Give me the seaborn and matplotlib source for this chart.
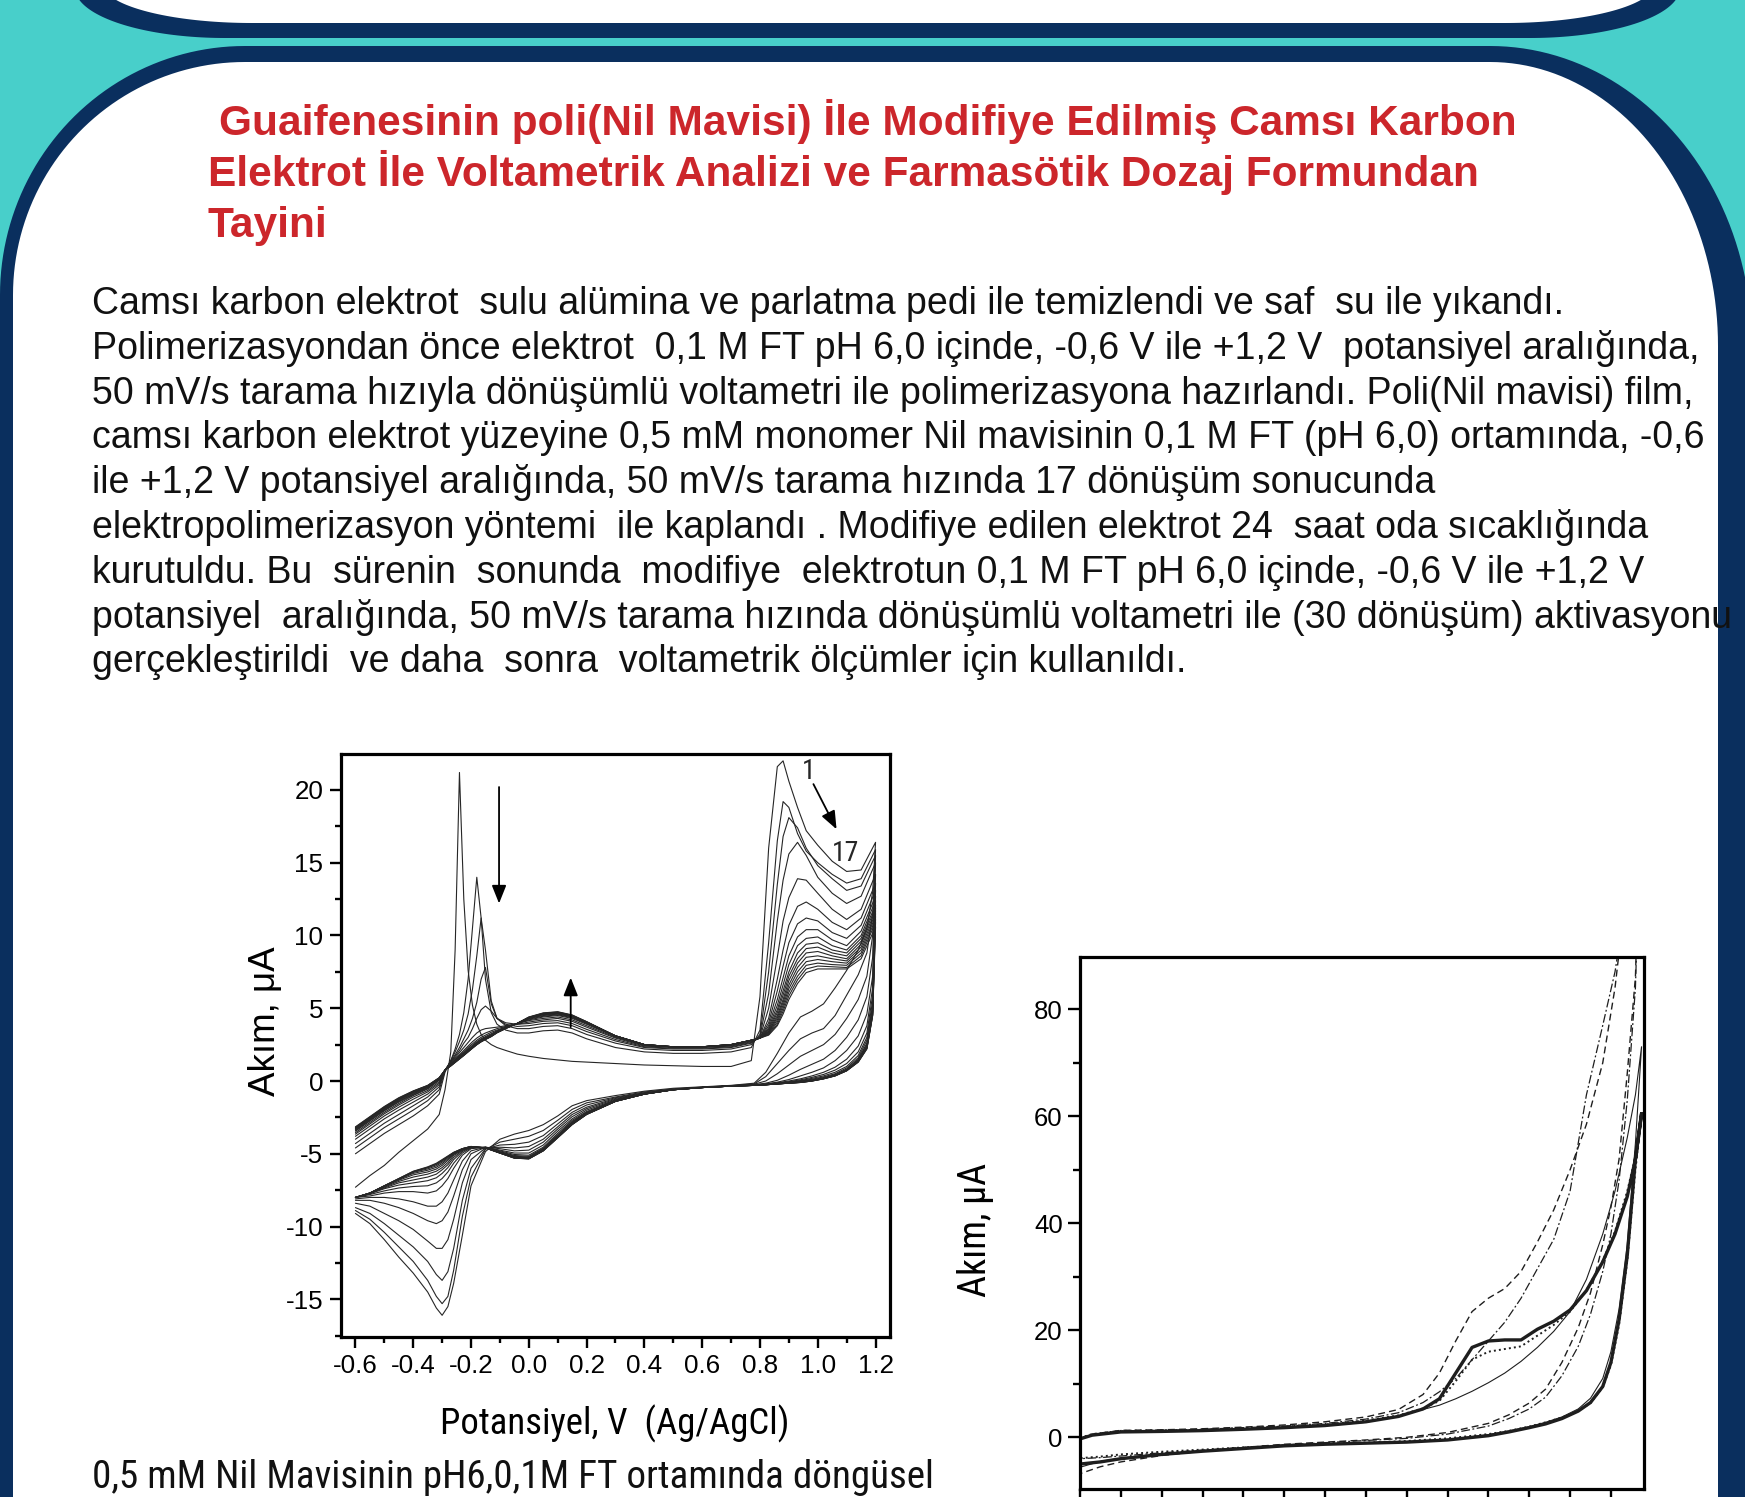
import numpy as np
import pandas as pd
import matplotlib
matplotlib.use("Agg")
import matplotlib.pyplot as plt
import seaborn as sns
from matplotlib.patches import Polygon
from matplotlib.ticker import MultipleLocator, NullFormatter
from matplotlib import font_manager as fm
from matplotlib.font_manager import FontProperties

# ---------------------------------------------------------------- data
# Left chart: 17 CV cycles of Nile Blue electropolymerisation
FWD_V = [-0.60, -0.55, -0.50, -0.45, -0.40, -0.35, -0.31, -0.29, -0.27, -0.255,
         -0.24, -0.225, -0.21, -0.195, -0.18, -0.165, -0.15, -0.13, -0.11, -0.08,
         -0.04, 0.00, 0.05, 0.10, 0.15, 0.20, 0.30, 0.40, 0.50, 0.60,
         0.70, 0.77, 0.80, 0.83, 0.86, 0.88, 0.90, 0.93, 0.96, 1.00,
         1.05, 1.10, 1.15, 1.20]
REV_V = [1.20, 1.19, 1.17, 1.14, 1.10, 1.06, 1.02, 0.98, 0.94, 0.90,
         0.86, 0.82, 0.78, 0.70, 0.60, 0.50, 0.40, 0.30, 0.20, 0.15,
         0.10, 0.05, 0.00, -0.05, -0.10, -0.15, -0.20, -0.23, -0.26, -0.28,
         -0.30, -0.32, -0.35, -0.40, -0.45, -0.50, -0.55, -0.60]

FWD_1 = [-7.3, -6.5, -5.8, -4.9, -4.1, -3.3, -2.3, -0.6, 2.0, 9.0,
         21.2, 12.5, 7.6, 5.2, 3.9, 3.2, 2.8, 2.5, 2.3, 2.1,
         1.85, 1.7, 1.55, 1.45, 1.35, 1.3, 1.2, 1.1, 1.05, 1.0,
         1.0, 1.4, 5.8, 16.0, 21.6, 22.0, 20.6, 18.8, 17.2, 16.2,
         15.1, 14.4, 14.5, 16.4]
FWD_2 = [-5.0, -4.3, -3.6, -3.0, -2.4, -1.7, -0.9, 0.6, 1.4, 2.2,
         3.2, 4.7, 7.0, 10.5, 14.0, 11.2, 7.0, 4.7, 3.9, 3.5,
         3.3, 3.3, 3.45, 3.5, 3.3, 2.9, 2.3, 2.0, 1.9, 1.9,
         2.0, 2.3, 3.5, 9.5, 16.5, 19.2, 18.8, 17.0, 15.8, 15.0,
         14.2, 13.6, 13.9, 15.9]
FWD_3 = [-4.6, -3.9, -3.2, -2.6, -2.0, -1.35, -0.6, 0.7, 1.4, 2.0,
         2.7, 3.5, 4.6, 6.3, 8.6, 11.2, 9.0, 5.5, 4.3, 3.8,
         3.6, 3.6, 3.75, 3.8, 3.6, 3.2, 2.6, 2.2, 2.1, 2.1,
         2.2, 2.5, 3.2, 7.5, 13.5, 16.8, 18.1, 17.4, 16.0, 14.8,
         13.9, 13.1, 13.4, 15.5]
FWD_4 = [-4.3, -3.6, -2.9, -2.3, -1.7, -1.1, -0.4, 0.75, 1.35, 1.8,
         2.3, 2.9, 3.5, 4.3, 5.4, 7.0, 7.8, 5.3, 4.3, 3.9,
         3.75, 3.8, 3.95, 4.0, 3.8, 3.4, 2.75, 2.3, 2.2, 2.2,
         2.3, 2.6, 3.1, 6.0, 11.0, 13.8, 15.6, 16.4, 15.5, 14.0,
         12.9, 12.2, 12.7, 15.0]
FWD_5 = [-4.0, -3.3, -2.6, -2.0, -1.45, -0.9, -0.25, 0.75, 1.3, 1.7,
         2.1, 2.6, 3.0, 3.6, 4.3, 4.9, 5.15, 4.8, 4.3, 4.0,
         3.9, 3.95, 4.1, 4.15, 3.95, 3.55, 2.85, 2.35, 2.25, 2.25,
         2.35, 2.65, 3.0, 5.0, 8.5, 11.0, 12.6, 13.9, 13.8, 12.9,
         11.8, 11.1, 11.8, 14.2]
FWD_6 = [-3.8, -3.1, -2.4, -1.8, -1.25, -0.75, -0.15, 0.75, 1.25, 1.6,
         1.95, 2.3, 2.65, 3.0, 3.3, 3.5, 3.6, 3.65, 3.7, 3.8,
         3.9, 4.05, 4.2, 4.3, 4.1, 3.7, 2.95, 2.4, 2.3, 2.3,
         2.4, 2.7, 2.95, 4.3, 7.0, 9.0, 10.7, 12.0, 12.3, 11.8,
         10.9, 10.4, 11.2, 13.6]
FWD_7 = [-3.65, -2.95, -2.25, -1.65, -1.1, -0.65, -0.05, 0.75, 1.2, 1.5,
         1.8, 2.1, 2.4, 2.7, 2.95, 3.15, 3.3, 3.45, 3.6, 3.75,
         3.95, 4.15, 4.3, 4.4, 4.2, 3.8, 3.0, 2.45, 2.35, 2.35,
         2.45, 2.75, 2.95, 4.0, 6.2, 7.9, 9.5, 10.8, 11.2, 11.0,
         10.2, 9.8, 10.7, 13.1]
FWD_8 = [-3.55, -2.85, -2.15, -1.55, -1.0, -0.55, 0.05, 0.75, 1.15, 1.45,
         1.75, 2.0, 2.3, 2.55, 2.8, 3.0, 3.15, 3.35, 3.5, 3.7,
         3.95, 4.2, 4.4, 4.5, 4.3, 3.9, 3.05, 2.5, 2.35, 2.35,
         2.45, 2.8, 2.95, 3.8, 5.6, 7.1, 8.6, 9.9, 10.4, 10.4,
         9.7, 9.3, 10.3, 12.7]
FWD_9 = [-3.45, -2.75, -2.05, -1.45, -0.95, -0.5, 0.1, 0.75, 1.15, 1.4,
         1.7, 1.95, 2.2, 2.45, 2.7, 2.9, 3.05, 3.25, 3.45, 3.7,
         3.95, 4.25, 4.45, 4.55, 4.35, 3.95, 3.1, 2.5, 2.35, 2.35,
         2.5, 2.8, 2.95, 3.65, 5.2, 6.6, 8.0, 9.3, 9.8, 9.9,
         9.3, 9.0, 10.0, 12.4]
FWD_10 = [-3.4, -2.7, -2.0, -1.4, -0.9, -0.45, 0.12, 0.75, 1.1, 1.4,
          1.65, 1.9, 2.15, 2.4, 2.65, 2.85, 3.0, 3.2, 3.4, 3.65,
          3.95, 4.3, 4.5, 4.6, 4.4, 4.0, 3.1, 2.5, 2.35, 2.35,
          2.5, 2.8, 2.95, 3.55, 4.9, 6.2, 7.5, 8.8, 9.4, 9.5,
          9.0, 8.8, 9.8, 12.1]
FWD_11 = [-3.35, -2.65, -1.95, -1.35, -0.85, -0.42, 0.15, 0.75, 1.1, 1.35,
          1.6, 1.85, 2.1, 2.35, 2.6, 2.8, 2.95, 3.15, 3.38, 3.65,
          3.95, 4.3, 4.55, 4.62, 4.42, 4.0, 3.1, 2.5, 2.35, 2.35,
          2.5, 2.8, 2.95, 3.45, 4.7, 5.9, 7.2, 8.4, 9.1, 9.2,
          8.8, 8.6, 9.6, 11.9]
FWD_12 = [-3.3, -2.6, -1.9, -1.3, -0.8, -0.4, 0.17, 0.75, 1.08, 1.33,
          1.58, 1.82, 2.07, 2.32, 2.56, 2.76, 2.92, 3.12, 3.36, 3.64,
          3.96, 4.32, 4.58, 4.65, 4.45, 4.02, 3.1, 2.5, 2.35, 2.35,
          2.5, 2.8, 2.95, 3.4, 4.5, 5.6, 6.9, 8.1, 8.8, 8.9,
          8.6, 8.4, 9.4, 11.7]
FWD_13 = [-3.27, -2.57, -1.87, -1.27, -0.77, -0.37, 0.19, 0.75, 1.07, 1.31,
          1.56, 1.8, 2.05, 2.3, 2.54, 2.74, 2.9, 3.1, 3.35, 3.63,
          3.96, 4.34, 4.6, 4.68, 4.47, 4.04, 3.1, 2.5, 2.35, 2.35,
          2.5, 2.8, 2.95, 3.35, 4.35, 5.4, 6.6, 7.8, 8.5, 8.6,
          8.4, 8.25, 9.2, 11.5]
FWD_14 = [-3.24, -2.54, -1.84, -1.24, -0.74, -0.35, 0.2, 0.75, 1.06, 1.3,
          1.54, 1.78, 2.03, 2.28, 2.52, 2.72, 2.88, 3.08, 3.34, 3.62,
          3.96, 4.36, 4.62, 4.7, 4.48, 4.05, 3.1, 2.5, 2.35, 2.35,
          2.5, 2.8, 2.95, 3.3, 4.2, 5.2, 6.35, 7.5, 8.2, 8.35,
          8.2, 8.1, 9.0, 11.3]
FWD_15 = [-3.21, -2.51, -1.81, -1.21, -0.72, -0.33, 0.21, 0.75, 1.05, 1.29,
          1.53, 1.77, 2.02, 2.27, 2.51, 2.71, 2.87, 3.07, 3.33, 3.62,
          3.96, 4.37, 4.64, 4.72, 4.5, 4.06, 3.1, 2.5, 2.35, 2.35,
          2.5, 2.8, 2.95, 3.25, 4.05, 5.0, 6.1, 7.2, 7.95, 8.1,
          8.0, 7.95, 8.8, 11.1]
FWD_16 = [-3.18, -2.48, -1.78, -1.18, -0.7, -0.31, 0.22, 0.75, 1.04, 1.28,
          1.52, 1.76, 2.01, 2.26, 2.5, 2.7, 2.86, 3.06, 3.32, 3.61,
          3.96, 4.38, 4.66, 4.74, 4.52, 4.07, 3.1, 2.5, 2.35, 2.35,
          2.5, 2.8, 2.95, 3.2, 3.9, 4.8, 5.85, 6.95, 7.7, 7.9,
          7.85, 7.8, 8.6, 10.9]
FWD_17 = [-3.15, -2.45, -1.75, -1.15, -0.68, -0.3, 0.23, 0.75, 1.03, 1.27,
          1.51, 1.75, 2.0, 2.25, 2.49, 2.69, 2.85, 3.05, 3.31, 3.6,
          3.96, 4.4, 4.68, 4.76, 4.54, 4.08, 3.1, 2.5, 2.35, 2.35,
          2.5, 2.8, 2.95, 3.15, 3.8, 4.6, 5.6, 6.7, 7.45, 7.7,
          7.7, 7.7, 8.4, 10.6]

REV_1 = [16.4, 13.0, 10.5, 9.0, 7.6, 6.4, 5.3, 4.8, 4.4, 3.3,
         1.9, 0.6, -0.15, -0.3, -0.4, -0.5, -0.7, -1.0, -1.35, -1.7,
         -2.4, -3.0, -3.4, -3.65, -4.0, -4.85, -7.2, -10.6, -13.9, -15.5,
         -16.1, -15.6, -14.5, -13.2, -12.1, -10.9, -9.8, -9.1]
REV_2 = [15.9, 11.5, 8.8, 7.3, 5.9, 4.5, 3.6, 3.3, 2.9, 2.1,
         1.2, 0.3, -0.2, -0.32, -0.42, -0.55, -0.75, -1.1, -1.5, -1.95,
         -2.7, -3.4, -3.8, -4.0, -4.2, -4.7, -6.6, -9.3, -13.0, -14.8,
         -15.3, -14.8, -13.7, -12.4, -11.4, -10.4, -9.5, -8.9]
REV_3 = [15.5, 10.0, 7.2, 5.6, 4.3, 3.2, 2.5, 2.1, 1.7, 1.1,
         0.5, 0.0, -0.22, -0.33, -0.43, -0.57, -0.8, -1.15, -1.65, -2.15,
         -2.95, -3.75, -4.2, -4.35, -4.4, -4.65, -6.0, -8.2, -11.5, -13.1,
         -13.7, -13.3, -12.4, -11.4, -10.6, -9.8, -9.1, -8.7]
REV_4 = [15.0, 8.5, 5.8, 4.2, 3.0, 2.1, 1.5, 1.15, 0.8, 0.4,
         0.05, -0.15, -0.25, -0.34, -0.44, -0.58, -0.83, -1.2, -1.8, -2.3,
         -3.15, -4.0, -4.5, -4.6, -4.55, -4.6, -5.4, -7.0, -9.5, -10.9,
         -11.5, -11.5, -11.0, -10.2, -9.6, -9.1, -8.6, -8.4]
REV_5 = [14.2, 7.2, 4.6, 3.1, 2.1, 1.4, 0.9, 0.6, 0.35, 0.1,
         -0.08, -0.2, -0.27, -0.34, -0.44, -0.59, -0.85, -1.25, -1.9, -2.45,
         -3.3, -4.2, -4.75, -4.8, -4.65, -4.55, -5.0, -6.1, -7.9, -9.0,
         -9.6, -9.8, -9.6, -9.1, -8.7, -8.4, -8.2, -8.2]
REV_6 = [13.6, 6.4, 3.8, 2.4, 1.5, 0.95, 0.6, 0.35, 0.15, 0.0,
         -0.12, -0.22, -0.28, -0.35, -0.45, -0.6, -0.87, -1.3, -2.0, -2.6,
         -3.45, -4.4, -4.95, -4.95, -4.75, -4.55, -4.8, -5.5, -6.8, -7.7,
         -8.3, -8.6, -8.6, -8.3, -8.1, -8.0, -8.0, -8.1]
REV_7 = [13.1, 5.9, 3.3, 2.0, 1.2, 0.75, 0.45, 0.25, 0.08, -0.05,
         -0.15, -0.23, -0.29, -0.35, -0.45, -0.6, -0.88, -1.32, -2.1, -2.7,
         -3.6, -4.55, -5.1, -5.05, -4.8, -4.55, -4.65, -5.1, -6.0, -6.7,
         -7.2, -7.55, -7.7, -7.6, -7.6, -7.7, -7.9, -8.0]
REV_8 = [12.7, 5.5, 3.0, 1.75, 1.0, 0.6, 0.35, 0.18, 0.03, -0.08,
         -0.17, -0.24, -0.29, -0.35, -0.45, -0.6, -0.89, -1.34, -2.15, -2.78,
         -3.7, -4.62, -5.18, -5.12, -4.85, -4.55, -4.6, -4.95, -5.65, -6.25,
         -6.7, -7.0, -7.2, -7.25, -7.35, -7.55, -7.8, -8.0]
REV_9 = [12.4, 5.2, 2.8, 1.6, 0.9, 0.5, 0.28, 0.12, 0.0, -0.1,
         -0.18, -0.25, -0.3, -0.35, -0.45, -0.6, -0.89, -1.36, -2.18, -2.83,
         -3.75, -4.67, -5.23, -5.17, -4.88, -4.56, -4.57, -4.85, -5.4, -5.95,
         -6.35, -6.65, -6.85, -7.0, -7.15, -7.4, -7.75, -8.0]
REV_10 = [12.1, 5.0, 2.6, 1.5, 0.82, 0.45, 0.23, 0.08, -0.03, -0.12,
          -0.19, -0.25, -0.3, -0.35, -0.45, -0.6, -0.9, -1.37, -2.21, -2.87,
          -3.79, -4.7, -5.26, -5.2, -4.9, -4.57, -4.55, -4.78, -5.25, -5.75,
          -6.1, -6.4, -6.6, -6.8, -7.0, -7.35, -7.72, -8.0]
REV_11 = [11.9, 4.9, 2.5, 1.45, 0.78, 0.42, 0.2, 0.05, -0.05, -0.13,
          -0.2, -0.26, -0.3, -0.35, -0.45, -0.6, -0.9, -1.38, -2.24, -2.9,
          -3.82, -4.73, -5.29, -5.23, -4.92, -4.58, -4.53, -4.74, -5.12, -5.6,
          -5.95, -6.2, -6.4, -6.6, -6.9, -7.3, -7.7, -8.0]
REV_12 = [11.7, 4.8, 2.4, 1.4, 0.75, 0.4, 0.18, 0.03, -0.07, -0.14,
          -0.2, -0.26, -0.3, -0.35, -0.45, -0.6, -0.9, -1.39, -2.26, -2.93,
          -3.85, -4.76, -5.31, -5.26, -4.93, -4.59, -4.52, -4.7, -5.05, -5.45,
          -5.8, -6.05, -6.25, -6.45, -6.82, -7.25, -7.7, -8.0]
REV_13 = [11.5, 4.7, 2.35, 1.38, 0.73, 0.38, 0.17, 0.02, -0.08, -0.15,
          -0.2, -0.26, -0.3, -0.35, -0.45, -0.6, -0.9, -1.39, -2.27, -2.95,
          -3.86, -4.77, -5.32, -5.27, -4.94, -4.59, -4.51, -4.68, -5.0, -5.35,
          -5.68, -5.93, -6.13, -6.35, -6.77, -7.22, -7.7, -8.0]
REV_14 = [11.3, 4.6, 2.3, 1.35, 0.72, 0.37, 0.16, 0.01, -0.09, -0.15,
          -0.2, -0.26, -0.3, -0.35, -0.45, -0.6, -0.9, -1.4, -2.28, -2.97,
          -3.88, -4.78, -5.33, -5.28, -4.95, -4.6, -4.5, -4.66, -4.96, -5.27,
          -5.58, -5.83, -6.04, -6.28, -6.74, -7.21, -7.7, -8.0]
REV_15 = [11.1, 4.55, 2.25, 1.32, 0.71, 0.36, 0.15, 0.0, -0.1, -0.15,
          -0.2, -0.26, -0.3, -0.35, -0.45, -0.6, -0.9, -1.4, -2.29, -2.98,
          -3.89, -4.79, -5.34, -5.29, -4.95, -4.6, -4.5, -4.65, -4.93, -5.21,
          -5.5, -5.75, -5.97, -6.24, -6.72, -7.2, -7.7, -8.0]
REV_16 = [10.9, 4.5, 2.22, 1.3, 0.7, 0.35, 0.15, 0.0, -0.1, -0.15,
          -0.2, -0.25, -0.3, -0.35, -0.45, -0.6, -0.9, -1.4, -2.3, -2.99,
          -3.9, -4.8, -5.35, -5.3, -4.95, -4.6, -4.5, -4.65, -4.91, -5.18,
          -5.45, -5.7, -5.93, -6.22, -6.71, -7.2, -7.7, -8.0]
REV_17 = [10.6, 4.5, 2.2, 1.3, 0.7, 0.35, 0.15, 0.0, -0.1, -0.15,
          -0.2, -0.25, -0.3, -0.35, -0.45, -0.6, -0.9, -1.4, -2.3, -3.0,
          -3.9, -4.8, -5.35, -5.3, -4.95, -4.6, -4.5, -4.65, -4.9, -5.15,
          -5.4, -5.65, -5.9, -6.2, -6.7, -7.2, -7.7, -8.0]

FWD_CYCLES = [FWD_1, FWD_2, FWD_3, FWD_4, FWD_5, FWD_6, FWD_7, FWD_8, FWD_9,
              FWD_10, FWD_11, FWD_12, FWD_13, FWD_14, FWD_15, FWD_16, FWD_17]
REV_CYCLES = [REV_1, REV_2, REV_3, REV_4, REV_5, REV_6, REV_7, REV_8, REV_9,
              REV_10, REV_11, REV_12, REV_13, REV_14, REV_15, REV_16, REV_17]

# Right chart: five voltammograms (forward and reverse branches)
R_FWD_V = [0.0, 0.03, 0.1, 0.2, 0.3, 0.4, 0.5, 0.6, 0.7, 0.78,
           0.84, 0.88, 0.92, 0.96, 1.0, 1.04, 1.08, 1.12, 1.16, 1.2,
           1.24, 1.28, 1.31, 1.34, 1.36, 1.375]
R_REV_V = [1.375, 1.36, 1.34, 1.32, 1.30, 1.28, 1.25, 1.22, 1.18, 1.14,
           1.10, 1.05, 1.0, 0.9, 0.8, 0.7, 0.6, 0.5, 0.4, 0.3,
           0.2, 0.1, 0.05, 0.0]
R_CURVES = ["A", "B", "C", "D", "E"]
R_FWD = {
    "A": [-0.3, 0.4, 1.0, 1.1, 1.25, 1.5, 1.8, 2.2, 2.9, 3.9,
          5.3, 7.2, 12.0, 16.8, 18.0, 18.2, 18.2, 20.2, 21.7, 23.8,
          27.4, 32.8, 38.0, 45.0, 52.0, 60.5],
    "B": [-0.1, 0.6, 1.2, 1.3, 1.4, 1.7, 2.0, 2.4, 3.1, 4.1,
          5.4, 6.8, 10.5, 14.5, 16.0, 16.5, 17.0, 19.0, 21.0, 23.5,
          27.5, 33.0, 38.5, 46.0, 52.5, 60.0],
    "C": [-0.2, 0.6, 1.3, 1.4, 1.6, 1.9, 2.3, 2.9, 3.8, 5.2,
          8.0, 12.0, 18.0, 23.5, 26.0, 27.8, 31.0, 36.5, 42.5, 50.0,
          58.5, 70.0, 84.0, 104.0, 116.0, 124.0],
    "D": [-0.2, 0.5, 1.2, 1.3, 1.5, 1.8, 2.1, 2.6, 3.4, 4.6,
          6.5, 8.5, 11.0, 14.5, 18.0, 21.5, 26.0, 31.5, 37.0, 46.0,
          64.0, 77.0, 87.0, 102.0, 114.0, 122.0],
    "E": [-0.2, 0.4, 1.0, 1.1, 1.2, 1.45, 1.75, 2.15, 2.8, 4.0,
          5.2, 6.0, 7.2, 8.6, 10.2, 12.0, 14.2, 16.8, 19.8, 23.5,
          29.5, 38.0, 46.0, 56.0, 64.0, 73.0],
}
R_REV = {
    "A": [60.5, 52.0, 34.0, 22.0, 14.0, 9.5, 6.5, 4.9, 3.5, 2.5,
          1.8, 1.0, 0.3, -0.5, -0.9, -1.1, -1.3, -1.6, -2.1, -2.6,
          -3.2, -4.0, -4.6, -5.0],
    "B": [60.0, 50.0, 33.0, 21.0, 13.5, 9.3, 6.4, 4.9, 3.7, 2.8,
          2.0, 1.2, 0.6, -0.2, -0.7, -1.0, -1.2, -1.5, -1.9, -2.3,
          -2.7, -3.2, -3.6, -3.9],
    "C": [124.0, 86.0, 68.0, 52.0, 43.0, 36.0, 27.0, 20.5, 14.0, 9.0,
          6.4, 4.2, 2.6, 0.9, 0.0, -0.5, -0.9, -1.3, -1.9, -2.6,
          -3.4, -4.6, -5.5, -6.8],
    "D": [122.0, 84.0, 63.0, 48.0, 38.0, 31.0, 23.0, 17.0, 11.5, 7.5,
          5.3, 3.5, 2.1, 0.6, -0.2, -0.6, -1.0, -1.4, -1.9, -2.4,
          -2.9, -3.5, -3.8, -4.0],
    "E": [73.0, 55.0, 36.0, 24.0, 16.0, 11.0, 7.3, 5.3, 3.8, 2.8,
          2.0, 1.2, 0.5, -0.4, -0.8, -1.0, -1.2, -1.5, -2.0, -2.5,
          -3.1, -3.9, -4.5, -5.6],
}

L_XTICKS = [-0.6, -0.4, -0.2, 0.0, 0.2, 0.4, 0.6, 0.8, 1.0, 1.2]
L_YTICKS = [-15, -10, -5, 0, 5, 10, 15, 20]
R_YTICKS = [0, 20, 40, 60, 80]

TITLE_LINES = ["Guaifenesinin poli(Nil Mavisi) İle Modifiye Edilmiş Camsı Karbon",
               "Elektrot İle Voltametrik Analizi ve Farmasötik Dozaj Formundan",
               "Tayini"]
BODY_LINES = [
    "Camsı karbon elektrot  sulu alümina ve parlatma pedi ile temizlendi ve saf  su ile yıkandı.",
    "Polimerizasyondan önce elektrot  0,1 M FT pH 6,0 içinde, -0,6 V ile +1,2 V  potansiyel aralığında,",
    "50 mV/s tarama hızıyla dönüşümlü voltametri ile polimerizasyona hazırlandı. Poli(Nil mavisi) film,",
    "camsı karbon elektrot yüzeyine 0,5 mM monomer Nil mavisinin 0,1 M FT (pH 6,0) ortamında, -0,6",
    "ile +1,2 V potansiyel aralığında, 50 mV/s tarama hızında 17 dönüşüm sonucunda",
    "elektropolimerizasyon yöntemi  ile kaplandı . Modifiye edilen elektrot 24  saat oda sıcaklığında",
    "kurutuldu. Bu  sürenin  sonunda  modifiye  elektrotun 0,1 M FT pH 6,0 içinde, -0,6 V ile +1,2 V",
    "potansiyel  aralığında, 50 mV/s tarama hızında dönüşümlü voltametri ile (30 dönüşüm) aktivasyonu",
    "gerçekleştirildi  ve daha  sonra  voltametrik ölçümler için kullanıldı.",
]
CAPTION = "0,5 mM Nil Mavisinin pH6,0,1M FT ortamında döngüsel"
XLABEL_L = "Potansiyel, V  (Ag/AgCl)"
YLABEL = "Akım, μA"

# ---------------------------------------------------------------- style
sns.set_theme(style="white", rc={"axes.unicode_minus": False})
names = {f.name for f in fm.fontManager.ttflist}
REG = "Liberation Sans" if "Liberation Sans" in names else "DejaVu Sans"
plt.rcParams["font.family"] = [REG, "DejaVu Sans"]
plt.rcParams["axes.unicode_minus"] = False


def find_condensed():
    for p in ["Liberation Sans Narrow", "Arial Narrow", "Roboto Condensed",
              "Open Sans Condensed", "Noto Sans Condensed", "DejaVu Sans Condensed"]:
        if p in names:
            return FontProperties(family=p)
    normal_w = (400, "normal", "regular", "book", "roman")
    for f in fm.fontManager.ttflist:
        nm = f.name.lower()
        st = f.stretch
        cond = ("narrow" in nm or "condensed" in nm or
                st in ("condensed", "semi-condensed", "extra-condensed") or
                (isinstance(st, (int, float)) and st < 500))
        if cond and f.style == "normal" and f.weight in normal_w and "mono" not in nm \
                and "serif" not in nm.replace("sans", ""):
            return FontProperties(fname=f.fname)
    return FontProperties(family=[REG, "DejaVu Sans"])


NARROW_FP = find_condensed()

TEAL = "#48cfca"
NAVY = "#0a2f5e"
RED = "#cc262b"

W, H = 1745, 1497
fig = plt.figure(figsize=(W / 100, H / 100), dpi=100)
fig.patch.set_facecolor(TEAL)


def fx(x):
    return x / W


def fy(y):
    return 1 - y / H


def rrect(x0, y0, x1, y1, rxl, ryl, rxr, ryr, n=50):
    t = np.linspace(0, np.pi / 2, n)
    pts = []
    cx, cy = x0 + rxl, y0 + ryl
    pts += list(zip(cx - rxl * np.cos(t), cy - ryl * np.sin(t)))
    cx, cy = x1 - rxr, y0 + ryr
    pts += list(zip(cx + rxr * np.cos(t[::-1]), cy - ryr * np.sin(t[::-1])))
    cx, cy = x1 - rxr, y1 - ryr
    pts += list(zip(cx + rxr * np.cos(t), cy + ryr * np.sin(t)))
    cx, cy = x0 + rxl, y1 - ryl
    pts += list(zip(cx - rxl * np.cos(t[::-1]), cy + ryl * np.sin(t[::-1])))
    return np.array(pts)


# ---------------------------------------------------------------- background panels
bg = fig.add_axes([0, 0, 1, 1])
bg.set_xlim(0, W)
bg.set_ylim(H, 0)
bg.axis("off")
bg.set_zorder(-5)
bg.add_patch(Polygon(rrect(75, -300, 1680, 38, 150, 50, 150, 50), closed=True, fc=NAVY, ec="none"))
bg.add_patch(Polygon(rrect(102, -300, 1655, 23, 150, 40, 150, 40), closed=True, fc="white", ec="none"))
bg.add_patch(Polygon(rrect(0, 46, 1752, 2400, 245, 249, 262, 300), closed=True, fc=NAVY, ec="none"))
bg.add_patch(Polygon(rrect(13, 62, 1718, 2400, 232, 233, 228, 284), closed=True, fc="white", ec="none"))

# ---------------------------------------------------------------- left chart
rows = []
for k, (fw, rv) in enumerate(zip(FWD_CYCLES, REV_CYCLES), start=1):
    for v, i in zip(FWD_V + REV_V, fw + rv):
        rows.append((k, v, i))
dfL = pd.DataFrame(rows, columns=["cycle", "V", "I"])

axL = fig.add_axes([fx(340.7), fy(1336.7), (890 - 340.7) / W, (1336.7 - 754) / H])
axL.set_facecolor("white")
sns.lineplot(data=dfL, x="V", y="I", units="cycle", estimator=None, sort=False,
             color="#262626", lw=0.8, ax=axL, legend=False)
axL.set_xlim(-0.651, 1.250)
axL.set_ylim(-17.57, 22.47)
axL.set_xticks(L_XTICKS)
axL.set_xticklabels([f"{v:.1f}" for v in L_XTICKS])
axL.set_yticks(L_YTICKS)
axL.set_yticklabels([str(v) for v in L_YTICKS])
axL.xaxis.set_minor_locator(MultipleLocator(0.1))
axL.yaxis.set_minor_locator(MultipleLocator(2.5))
axL.set_xlabel("")
axL.set_ylabel("")
axL.tick_params(which="both", direction="out", bottom=True, left=True, top=False, right=False,
                width=1.7, color="black")
axL.tick_params(which="major", length=8.2, labelsize=18.7, pad=4.2, labelcolor="black")
axL.tick_params(which="minor", length=4.5)

arrow_kw = dict(arrowstyle="-|>,head_length=0.55,head_width=0.22", color="black", lw=1.3,
                shrinkA=0, shrinkB=0, mutation_scale=20)
axL.annotate("", xy=(-0.103, 12.2), xytext=(-0.103, 20.2), arrowprops=arrow_kw)
axL.annotate("", xy=(0.145, 7.1), xytext=(0.145, 3.7), arrowprops=arrow_kw)
axL.annotate("", xy=(1.065, 17.3), xytext=(0.985, 20.4), arrowprops=arrow_kw)
t1 = axL.text(0.968, 21.3, "1", ha="center", va="center", fontproperties=NARROW_FP)
t1.set_fontsize(20)
t17 = axL.text(1.095, 15.6, "17", ha="center", va="center", fontproperties=NARROW_FP)
t17.set_fontsize(20)

# ---------------------------------------------------------------- right chart
rows = []
for c in R_CURVES:
    for v, i in zip(R_FWD_V + R_REV_V, R_FWD[c] + R_REV[c]):
        rows.append((c, v, i))
dfR = pd.DataFrame(rows, columns=["curve", "V", "I"])

axR = fig.add_axes([fx(1080), fy(1489.3), 564 / W, 532.6 / H])
axR.set_facecolor("white")
sns.lineplot(data=dfR, x="V", y="I", style="curve", size="curve", estimator=None, sort=False,
             dashes={"A": "", "B": (1, 1.6), "C": (5, 3), "D": (7, 2, 1.5, 2), "E": ""},
             sizes={"A": 2.4, "B": 1.4, "C": 1.0, "D": 0.9, "E": 0.8},
             color="#1e1e1e", ax=axR, legend=False)
axR.set_xlim(0, 1.381)
axR.set_ylim(-9.72, 89.83)
axR.xaxis.set_major_locator(MultipleLocator(0.1))
axR.xaxis.set_major_formatter(NullFormatter())
axR.set_yticks(R_YTICKS)
axR.set_yticklabels([str(v) for v in R_YTICKS])
axR.yaxis.set_minor_locator(MultipleLocator(10))
axR.set_xlabel("")
axR.set_ylabel("")
axR.tick_params(which="both", direction="out", bottom=True, left=True, top=False, right=False,
                width=1.7, color="black")
axR.tick_params(axis="y", which="major", length=9, labelsize=18.5, pad=3.5, labelcolor="black")
axR.tick_params(axis="y", which="minor", length=5)
axR.tick_params(axis="x", which="major", length=6)

for ax in (axL, axR):
    for sp in ax.spines.values():
        sp.set_visible(True)
        sp.set_linewidth(2.3)
        sp.set_color("black")

# ---------------------------------------------------------------- texts
renderer = fig.canvas.get_renderer()


def fitted(t, target, use_height=False):
    bb = t.get_window_extent(renderer)
    cur = bb.height if use_height else bb.width
    return t.get_fontsize() * target / cur


# title
title_pos = [(219, 135, 1297), (208, 186, 1270), (208, 237, None)]
tobjs = []
for (x, y, w), s in zip(title_pos, TITLE_LINES):
    t = fig.text(fx(x), fy(y), s, fontsize=30, fontweight="bold", color=RED,
                 ha="left", va="baseline", family=[REG, "DejaVu Sans"])
    tobjs.append((t, w))
ts = np.mean([fitted(t, w) for t, w in tobjs if w])
for t, _ in tobjs:
    t.set_fontsize(ts)

# body paragraph
BODY_BASE = [314, 358.8, 403.6, 448.4, 493.2, 538, 582.8, 627.6, 672.4]
BODY_RIGHT = [1563, 1697, 1688, 1703, 1433, 1647, 1644, 1730, 1186]
bobjs = []
for y, s, r in zip(BODY_BASE, BODY_LINES, BODY_RIGHT):
    t = fig.text(fx(92.4), fy(y), s, fontsize=22, color="#111111", ha="left", va="baseline",
                 family=[REG, "DejaVu Sans"])
    bobjs.append((t, r - 92.4))
bs = float(np.median([fitted(t, w) for t, w in bobjs]))
for t, _ in bobjs:
    t.set_fontsize(bs)

# axis labels
t = fig.text(fx(615), fy(1434), XLABEL_L, color="black", ha="center", va="baseline",
             fontproperties=NARROW_FP)
t.set_fontsize(26)
t.set_fontsize(fitted(t, 349))
t = fig.text(fx(265), fy(1021), YLABEL, fontsize=26, rotation=90, color="black", ha="center",
             va="center", family=[REG, "DejaVu Sans"])
t.set_fontsize(fitted(t, 150, use_height=True))
t = fig.text(fx(975), fy(1230), YLABEL, rotation=90, color="black", ha="center",
             va="center", fontproperties=NARROW_FP)
t.set_fontsize(26)
t.set_fontsize(fitted(t, 134, use_height=True))

# caption (sits right at the bottom edge, as in the original)
t = fig.text(fx(92), fy(1488), CAPTION, color="#111111", ha="left", va="baseline",
             fontproperties=NARROW_FP)
t.set_fontsize(22)
t.set_fontsize(fitted(t, 843))

fig.savefig("out.png", dpi=100, facecolor=fig.get_facecolor())
